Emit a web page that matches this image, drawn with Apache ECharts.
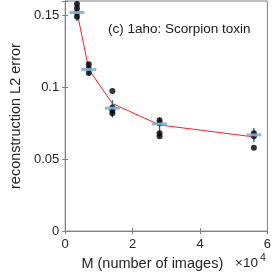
<!DOCTYPE html>
<html><head><meta charset="utf-8">
<script src="https://cdn.jsdelivr.net/npm/echarts@6/dist/echarts.min.js"></script>
<style>html,body{margin:0;padding:0;background:#fff}#c{width:274px;height:276px}</style>
</head><body><div id="c"></div>
<script>
// M values in units of 10^4
const mValues = [0.35, 0.7, 1.4, 2.8, 5.6];
// individual trial errors for each M
const trialErrors = [
  [0.158, 0.155, 0.152, 0.149],
  [0.116, 0.113, 0.110],
  [0.0975, 0.086, 0.084, 0.082],
  [0.077, 0.075, 0.068, 0.066],
  [0.068, 0.066, 0.058]
];
const meanErrors = [0.1525, 0.1125, 0.0887, 0.0738, 0.0655];
const medianErrors = [0.152, 0.1124, 0.0855, 0.0745, 0.0669];
const whiskerLow = [0.146, 0.108, 0.079, 0.065, 0.062];
const whiskerHigh = [0.160, 0.117, 0.091, 0.079, 0.0717];
const xTicks = [0, 2, 4, 6];
const yTicks = [0, 0.05, 0.1, 0.15];
const titleText = '(c) 1aho: Scorpion toxin';

const dots = [];
trialErrors.forEach((arr, i) => arr.forEach(v => dots.push([mValues[i], v])));
const lineData = mValues.map((m, i) => [m, meanErrors[i]]);
const whiskerData = mValues.map((m, i) => [m, whiskerLow[i], whiskerHigh[i]]);
const boxData = mValues.map((m, i) => [m, medianErrors[i]]);

const axisCol = '#808080';
const labCol = '#262626';
const font = 'Liberation Sans, Arial, sans-serif';

const chart = echarts.init(document.getElementById('c'), null, {renderer: 'canvas'});
chart.setOption({
  animation: false,
  backgroundColor: '#fff',
  grid: {left: 58, right: 4, top: 1, bottom: 44, show: true, borderColor: axisCol, borderWidth: 1},
  title: {text: titleText, left: 103, top: 17,
    textStyle: {fontFamily: font, fontSize: 13.5, fontWeight: 'normal', color: '#1a1a1a'}},
  graphic: [{type: 'text', left: 235, top: 253,
    style: {text: '×10{s|4}', font: '13.5px ' + font, fill: labCol,
      rich: {s: {fontSize: 10.5, verticalAlign: 'top', padding: [0,0,9,2], fontFamily: font}}}}],
  xAxis: [{
    type: 'value', min: 0, max: 6, interval: 2,
    name: 'M (number of images)', nameLocation: 'middle', nameGap: 23,
    nameTextStyle: {fontFamily: font, fontSize: 14.5, color: labCol, padding: [0, 28, 0, 0]},
    axisLine: {show: true, onZero: false, lineStyle: {color: axisCol}},
    axisTick: {show: true, inside: true, length: 3, lineStyle: {color: axisCol}},
    axisLabel: {fontFamily: font, fontSize: 13, color: labCol, margin: 7},
    splitLine: {show: false}
  }, {
    type: 'value', position: 'top', min: 0, max: 6, interval: 2,
    axisLine: {show: true, lineStyle: {color: axisCol}},
    axisTick: {show: true, inside: true, length: 3, lineStyle: {color: axisCol}},
    axisLabel: {show: false}, splitLine: {show: false}
  }],
  yAxis: [{
    type: 'value', min: 0, max: 0.16, interval: 0.05,
    name: 'reconstruction L2 error', nameLocation: 'middle', nameGap: 40,
    nameTextStyle: {fontFamily: font, fontSize: 14.5, color: labCol},
    axisLine: {show: true, lineStyle: {color: axisCol}},
    axisTick: {show: true, inside: true, length: 3, lineStyle: {color: axisCol}},
    axisLabel: {fontFamily: font, fontSize: 13, color: labCol, margin: 6,
      formatter: v => (Math.abs(v / 0.05 - Math.round(v / 0.05)) < 1e-6) ? String(+v.toFixed(2)) : ''},
    splitLine: {show: false}
  }, {
    type: 'value', position: 'right', min: 0, max: 0.16, interval: 0.05,
    axisLine: {show: true, lineStyle: {color: axisCol}},
    axisTick: {show: true, inside: true, length: 3, lineStyle: {color: axisCol}},
    axisLabel: {show: false}, splitLine: {show: false}
  }],
  series: [
    {type: 'custom', xAxisIndex: 0, yAxisIndex: 0, z: 2, data: whiskerData,
      renderItem: (params, api) => {
        const a = api.coord([api.value(0), api.value(1)]);
        const b = api.coord([api.value(0), api.value(2)]);
        return {type: 'line', shape: {x1: a[0], y1: a[1], x2: b[0], y2: b[1]},
          style: {stroke: '#0b67b0', lineWidth: 1.3}};
      }},
    {type: 'line', z: 3, data: lineData, symbol: 'none',
      lineStyle: {color: '#ff2020', width: 1}},
    {type: 'scatter', z: 4, data: dots, symbol: 'circle', symbolSize: 6,
      itemStyle: {color: '#000'}},
    {type: 'custom', z: 5, data: boxData,
      renderItem: (params, api) => {
        const c = api.coord([api.value(0), api.value(1)]);
        return {type: 'line', shape: {x1: c[0] - 7.5, y1: c[1], x2: c[0] + 7.5, y2: c[1]},
          style: {stroke: '#7ab4de', lineWidth: 3, opacity: 0.9}};
      }}
  ]
});
</script></body></html>
